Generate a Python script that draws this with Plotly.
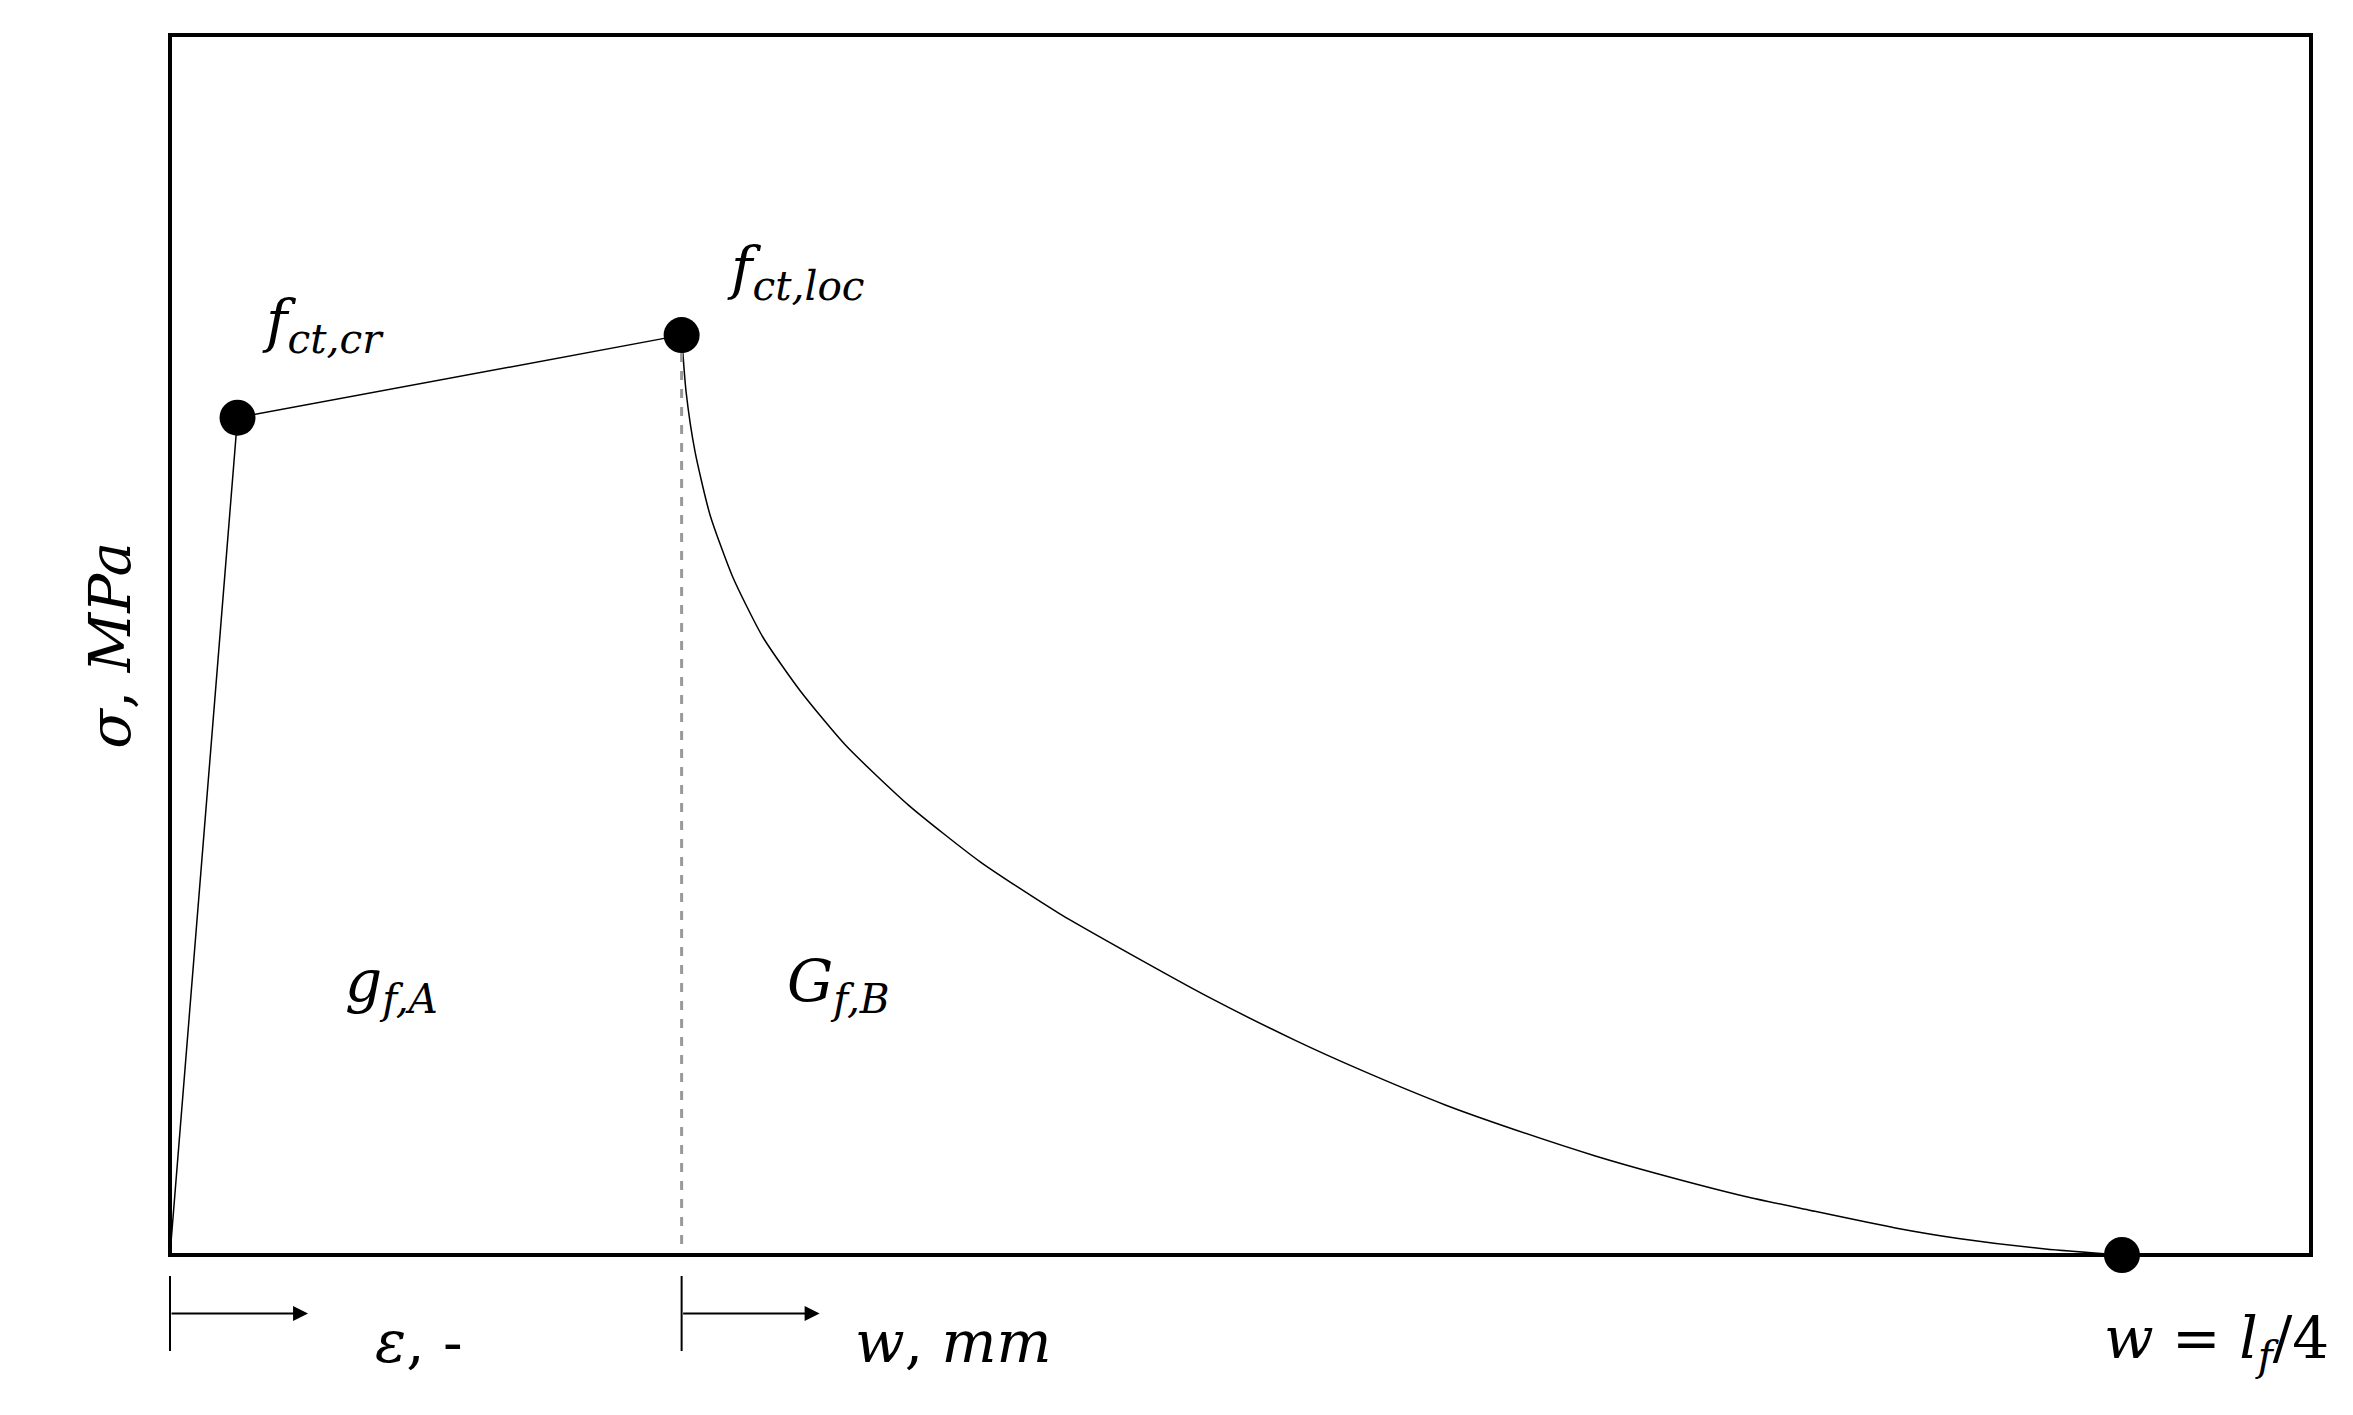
import plotly.graph_objects as go

lin_x = [0, 45, 341]
lin_y = [0, 558, 613]
curve_x = [341, 344, 350, 360, 375, 395, 420, 450, 492, 540, 592, 650, 692, 750, 792, 850, 892, 950, 992, 1050, 1092, 1150, 1192, 1250, 1301]
curve_y = [613, 575, 535, 493, 452, 412, 376, 340, 300, 262, 228, 195, 172, 143, 124, 100, 85, 66, 54, 39, 30, 18, 11, 4, 0]
pt_x = [45, 341, 1301]
pt_y = [558, 613, 0]
XMAX, YMAX = 1427, 813

F = "DejaVu Serif"
fig = go.Figure()
fig.add_trace(go.Scatter(x=lin_x, y=lin_y, mode="lines", line=dict(color="black", width=1.5)))
fig.add_trace(go.Scatter(x=curve_x, y=curve_y, mode="lines", line=dict(color="black", width=1.5, shape="spline", smoothing=0.6)))
fig.add_trace(go.Scatter(x=[341, 341], y=[613, 0], mode="lines", line=dict(color="#999", width=3, dash="dash")))
fig.add_trace(go.Scatter(x=pt_x, y=pt_y, mode="markers", marker=dict(color="black", size=36), cliponaxis=False))

def txt(x, y, s, xa="left", ya="middle", size=58):
    fig.add_annotation(x=x / XMAX, y=y / YMAX, xref="paper", yref="paper", text=s, showarrow=False,
                       xanchor=xa, yanchor=ya, font=dict(family=F, size=size, color="black"))

txt(60, 620, "<i>f<sub>ct,cr</sub></i>")
txt(370, 655, "<i>f<sub>ct,loc</sub></i>")
txt(115, 180, "<i>g<sub>f,A</sub></i>")
txt(410, 180, "<i>G<sub>f,B</sub></i>")
txt(135, -58, "<i>ε</i>, -")
txt(455, -58, "<i>w</i>, <i>mm</i>")
txt(1440, -58, "<i>w</i> = <i>l<sub>f</sub></i>/4", xa="right")
fig.add_annotation(x=-0.045, y=0.5, xref="paper", yref="paper", text="<i>σ</i>, <i>MPa</i>", textangle=-90,
                   showarrow=False, font=dict(family=F, size=58, color="black"))

for x0 in [0, 341]:
    fig.add_shape(type="line", xref="paper", yref="paper", x0=x0 / XMAX, x1=x0 / XMAX,
                  y0=-14 / YMAX, y1=-64 / YMAX, line=dict(color="black", width=2))
    fig.add_annotation(x=(x0 + 92) / XMAX, y=-39 / YMAX, xref="paper", yref="paper", ax=-138, ay=0,
                       showarrow=True, arrowhead=2, arrowsize=1.5, arrowwidth=2, arrowcolor="black", text="")

fig.update_xaxes(range=[0, XMAX], visible=False)
fig.update_yaxes(range=[0, YMAX], visible=False)
fig.add_shape(type="rect", xref="paper", yref="paper", x0=0, x1=1, y0=0, y1=1, line=dict(color="black", width=4))
fig.update_layout(width=2353, height=1415, showlegend=False, plot_bgcolor="white", paper_bgcolor="white",
                  margin=dict(l=162, r=50, t=27, b=168))
fig.write_html("out.html")
